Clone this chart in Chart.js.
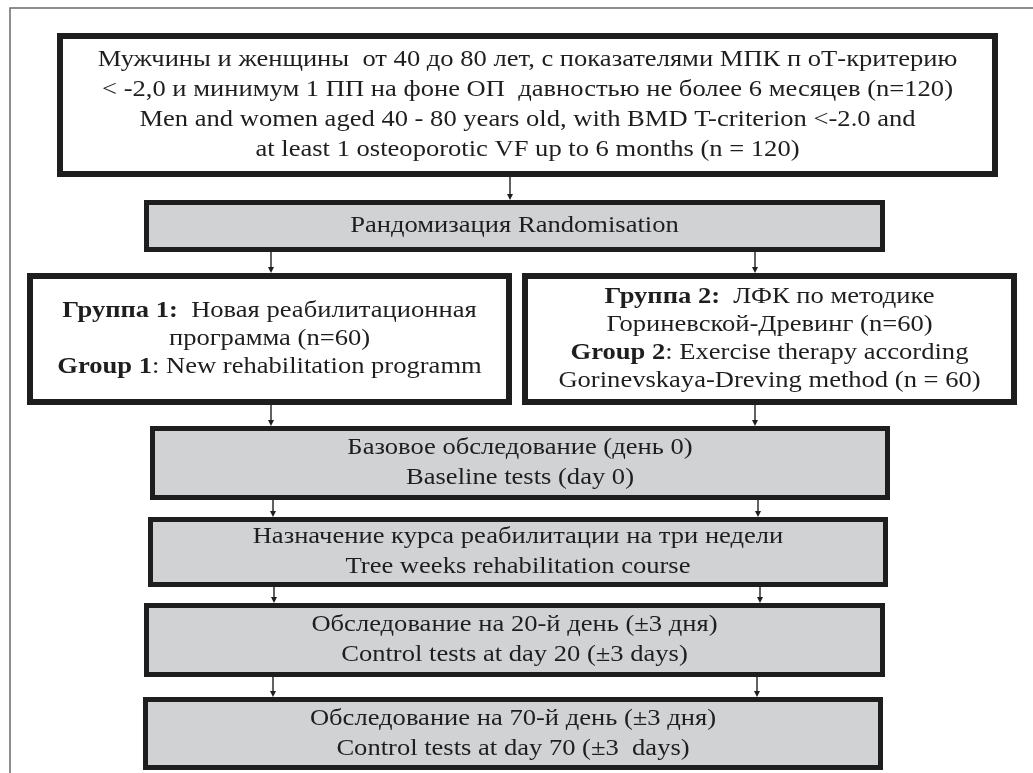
<!DOCTYPE html>
<html>
<head>
<meta charset="utf-8">
<script src="https://cdn.jsdelivr.net/npm/chart.js@4/dist/chart.umd.min.js"></script>
<style>
  html, body { margin: 0; padding: 0; background: #fff; }
  #wrap { width: 1033px; height: 773px; }
</style>
</head>
<body>
<div id="wrap"><canvas id="flow" width="1033" height="773"></canvas></div>
<script>
  // box texts, each line is a list of [text, bold]
  const inclusionLines = [
    [['Мужчины и женщины  от 40 до 80 лет, с показателями МПК п оТ-критерию', false]],
    [['< -2,0 и минимум 1 ПП на фоне ОП  давностью не более 6 месяцев (n=120)', false]],
    [['Men and women aged 40 - 80 years old, with BMD T-criterion <-2.0 and', false]],
    [['at least 1 osteoporotic VF up to 6 months (n = 120)', false]],
  ];
  const randomLines = [[['Рандомизация Randomisation', false]]];
  const group1Lines = [
    [['Группа 1:', true], ['  Новая реабилитационная', false]],
    [['программа (n=60)', false]],
    [['Group 1', true], [': New rehabilitation programm', false]],
  ];
  const group2Lines = [
    [['Группа 2:', true], ['  ЛФК по методике', false]],
    [['Гориневской-Древинг (n=60)', false]],
    [['Group 2', true], [': Exercise therapy according', false]],
    [['Gorinevskaya-Dreving method (n = 60)', false]],
  ];
  const baselineLines = [
    [['Базовое обследование (день 0)', false]],
    [['Baseline tests (day 0)', false]],
  ];
  const courseLines = [
    [['Назначение курса реабилитации на три недели', false]],
    [['Tree weeks rehabilitation course', false]],
  ];
  const day20Lines = [
    [['Обследование на 20-й день (±3 дня)', false]],
    [['Control tests at day 20 (±3 days)', false]],
  ];
  const day70Lines = [
    [['Обследование на 70-й день (±3 дня)', false]],
    [['Control tests at day 70 (±3  days)', false]],
  ];

  // layout in axis units (x0, y0, x1, y1), fill, border width, line step
  const layout = [
    { lines: inclusionLines, rect: [57, 33, 998, 177], fill: '#ffffff', border: 6, step: 30 },
    { lines: randomLines, rect: [144, 200, 885, 252], fill: '#d1d2d4', border: 5, step: 30 },
    { lines: group1Lines, rect: [27, 273, 512, 405], fill: '#ffffff', border: 6, step: 28 },
    { lines: group2Lines, rect: [522, 273, 1017, 405], fill: '#ffffff', border: 6, step: 28 },
    { lines: baselineLines, rect: [150, 426, 890, 500], fill: '#d1d2d4', border: 5, step: 30 },
    { lines: courseLines, rect: [148, 517, 888, 587], fill: '#d1d2d4', border: 5, step: 30 },
    { lines: day20Lines, rect: [144, 603, 885, 677], fill: '#d1d2d4', border: 5, step: 30 },
    { lines: day70Lines, rect: [143, 697, 883, 770], fill: '#d1d2d4', border: 5, step: 30 },
  ];

  // arrows: x, from y, to y
  const arrows = [
    [510, 177, 200],
    [271, 252, 273], [755, 252, 273],
    [271, 405, 426], [755, 405, 426],
    [273, 500, 517], [758, 500, 517],
    [274, 587, 603], [760, 587, 603],
    [273, 677, 697], [757, 677, 697],
  ];

  const FONT_SIZE = 23;
  const TEXT_STRETCH = 1.155; // the source lettering is wider than plain Times
  const FONT_FAMILY = '"Liberation Serif", "Times New Roman", serif';
  const INK = '#1e1e1e';

  const flowPlugin = {
    id: 'flow',
    afterDatasetsDraw(chart) {
      const ctx = chart.ctx;
      const sx = chart.scales.x;
      const sy = chart.scales.y;
      const px = (v) => sx.getPixelForValue(v);
      const py = (v) => sy.getPixelForValue(v);

      ctx.save();

      /* outer frame: top and left rules */
      ctx.strokeStyle = '#6a6a6a';
      ctx.lineWidth = 1.5;
      ctx.beginPath();
      ctx.moveTo(px(10), py(773));
      ctx.lineTo(px(10), py(8));
      ctx.lineTo(px(1033), py(8));
      ctx.stroke();

      /* arrows */
      ctx.strokeStyle = INK;
      ctx.fillStyle = INK;
      ctx.lineWidth = 1.4;
      arrows.forEach(function (a) {
        const x = px(a[0]);
        const y0 = py(a[1]);
        const y1 = py(a[2]);
        ctx.beginPath();
        ctx.moveTo(x, y0);
        ctx.lineTo(x, y1 - 5);
        ctx.stroke();
        ctx.beginPath();
        ctx.moveTo(x - 3, y1 - 6);
        ctx.lineTo(x + 3, y1 - 6);
        ctx.lineTo(x, y1);
        ctx.closePath();
        ctx.fill();
      });

      /* boxes */
      layout.forEach(function (box) {
        const x0 = px(box.rect[0]);
        const y0 = py(box.rect[1]);
        const x1 = px(box.rect[2]);
        const y1 = py(box.rect[3]);
        const b = box.border;
        ctx.fillStyle = box.fill;
        ctx.fillRect(x0, y0, x1 - x0, y1 - y0);
        ctx.strokeStyle = INK;
        ctx.lineWidth = b;
        ctx.strokeRect(x0 + b / 2, y0 + b / 2, x1 - x0 - b, y1 - y0 - b);

        const cx = (x0 + x1) / 2;
        const cy = (y0 + y1) / 2;
        const n = box.lines.length;
        ctx.textBaseline = 'middle';
        ctx.textAlign = 'left';
        ctx.fillStyle = INK;
        box.lines.forEach(function (segs, i) {
          const ly = cy + (i - (n - 1) / 2) * box.step;
          let total = 0;
          segs.forEach(function (s) {
            ctx.font = (s[1] ? 'bold ' : '') + FONT_SIZE + 'px ' + FONT_FAMILY;
            total += ctx.measureText(s[0]).width;
          });
          ctx.save();
          ctx.translate(cx, ly);
          ctx.scale(TEXT_STRETCH, 1);
          let x = -total / 2;
          segs.forEach(function (s) {
            ctx.font = (s[1] ? 'bold ' : '') + FONT_SIZE + 'px ' + FONT_FAMILY;
            ctx.fillText(s[0], x, 0);
            x += ctx.measureText(s[0]).width;
          });
          ctx.restore();
        });
      });

      ctx.restore();
    },
  };

  // eslint-disable-next-line
  const chart = new Chart(document.getElementById('flow').getContext('2d'), {
    type: 'scatter',
    data: { datasets: [{ data: [], pointRadius: 0 }] },
    options: {
      responsive: false,
      animation: false,
      layout: { padding: 0 },
      plugins: { legend: { display: false }, tooltip: { enabled: false } },
      scales: {
        x: { type: 'linear', min: 0, max: 1033, display: false },
        y: { type: 'linear', min: 0, max: 773, reverse: true, display: false },
      },
    },
    plugins: [flowPlugin],
  });
</script>
</body>
</html>
